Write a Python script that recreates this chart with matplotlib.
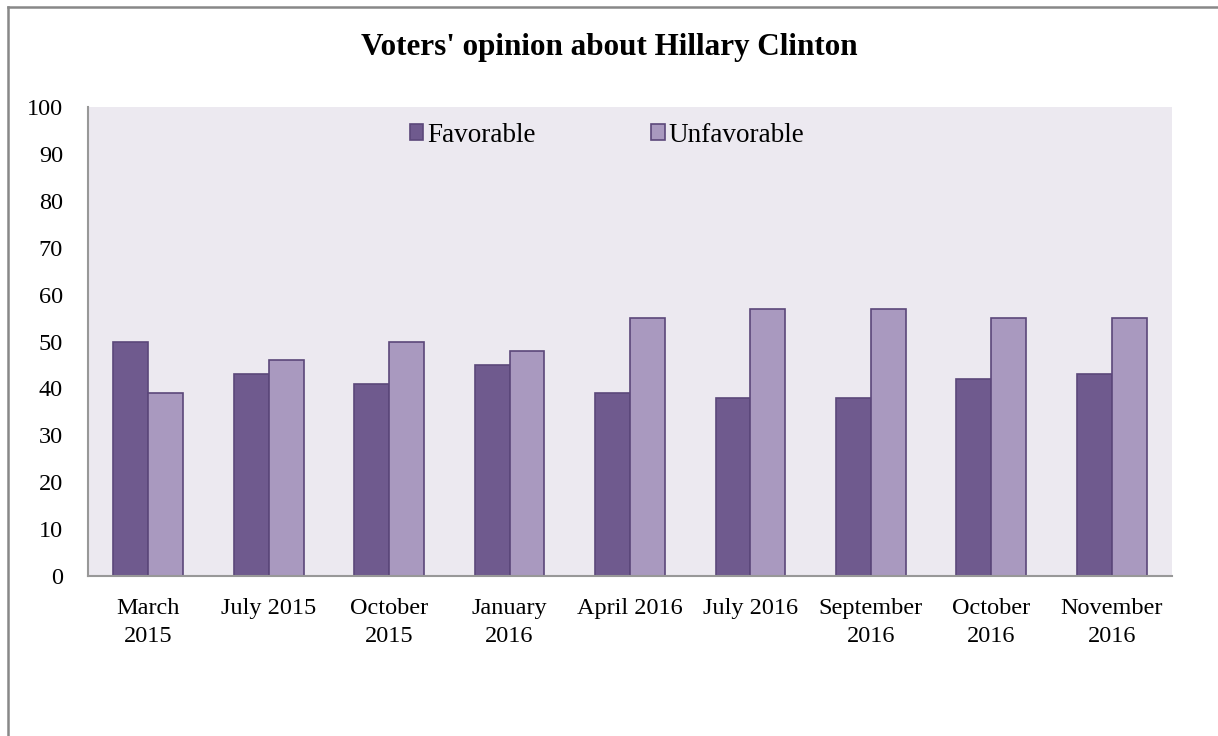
import matplotlib.pyplot as plt
import numpy as np
from matplotlib.lines import Line2D

# data
categories = ['March\n2015', 'July 2015', 'October\n2015', 'January\n2016', 'April 2016',
              'July 2016', 'September\n2016', 'October\n2016', 'November\n2016']
favorable = [50, 43, 41, 45, 39, 38, 38, 42, 43]
unfavorable = [39, 46, 50, 48, 55, 57, 57, 55, 55]

fav_color = '#6f5a8e'
unfav_color = '#a999bf'
edge_color = '#5b477a'
bg_color = '#ece9f0'

plt.rcParams['font.family'] = ['Liberation Serif', 'DejaVu Serif']

W, H = 1218, 736
fig = plt.figure(figsize=(W / 100, H / 100), dpi=100)
fig.patch.set_facecolor('white')

# plot area in pixel terms
ax = fig.add_axes([88 / W, (H - 576) / H, (1172 - 88) / W, (576 - 107) / H])
ax.set_facecolor(bg_color)

x = np.arange(len(categories))
bw = 0.29
ax.bar(x - bw / 2, favorable, bw, color=fav_color, edgecolor=edge_color,
       linewidth=1.2, label='Favorable')
ax.bar(x + bw / 2, unfavorable, bw, color=unfav_color, edgecolor=edge_color,
       linewidth=1.2, label='Unfavorable')

ax.set_xlim(-0.5, len(categories) - 0.5)
ax.set_ylim(0, 100)
ax.set_yticks(range(0, 101, 10))
ax.set_xticks(x)
ax.set_xticklabels(categories, linespacing=1.45)
ax.tick_params(axis='both', length=0, labelsize=17.5, colors='black')
ax.tick_params(axis='y', pad=18)
ax.tick_params(axis='x', pad=16)

for s in ['top', 'right']:
    ax.spines[s].set_visible(False)
for s in ['left', 'bottom']:
    ax.spines[s].set_color('#989898')
    ax.spines[s].set_linewidth(1.5)

ax.legend(loc='center', bbox_to_anchor=(0.479, 0.94), ncol=2, frameon=False,
          fontsize=19.5, handlelength=0.5, handleheight=0.5, handletextpad=0.15,
          columnspacing=4.25)

fig.text(0.5, (H - 48) / H, "Voters' opinion about Hillary Clinton", ha='center',
         va='center', fontsize=22.4, fontweight='bold')

# outer chart border (clipped on right and bottom as in the reference)
fig.add_artist(Line2D([8 / W, 8 / W], [0, 1 - 7 / H], color='#888888', linewidth=1.8))
fig.add_artist(Line2D([8 / W, 1], [1 - 7 / H, 1 - 7 / H], color='#888888', linewidth=1.8))

plt.savefig('out.png', dpi=100, facecolor='white')
